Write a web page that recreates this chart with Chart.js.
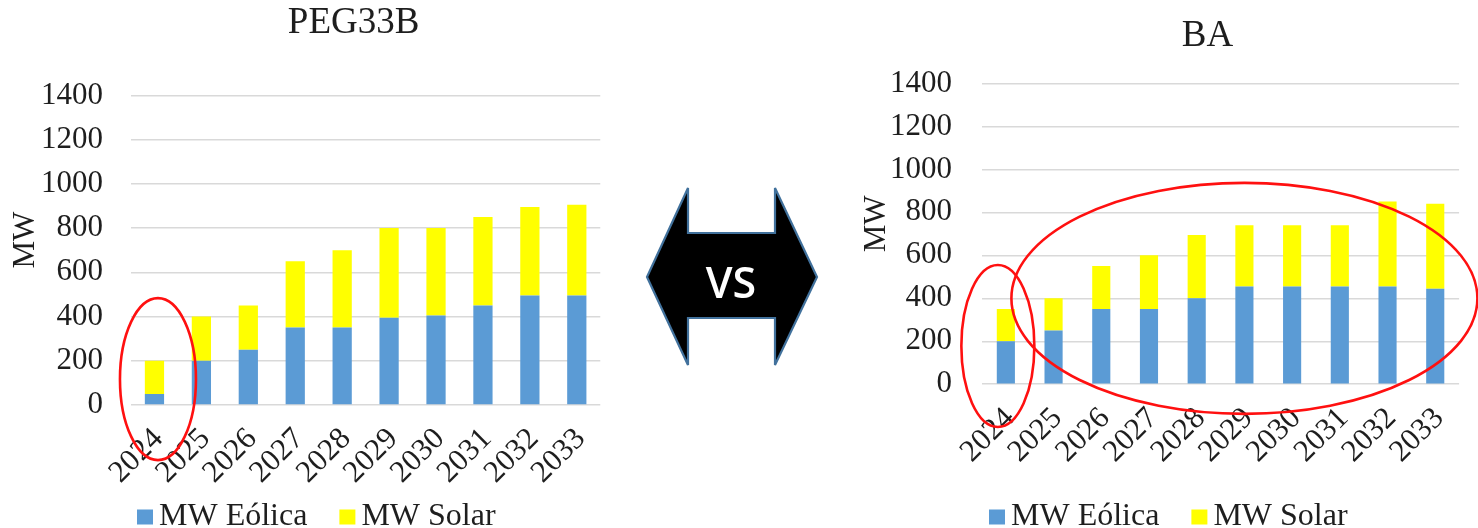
<!DOCTYPE html>
<html>
<head>
<meta charset="utf-8">
<title>PEG33B vs BA</title>
<script src="https://cdn.jsdelivr.net/npm/chart.js@4.4.1/dist/chart.umd.min.js"></script>
<style>
  html, body { margin: 0; padding: 0; background: #ffffff; }
  body { width: 1478px; height: 528px; position: relative; overflow: hidden; }
  #boxA { position: absolute; left: 0; top: 0; width: 620px; height: 528px; }
  #boxB { position: absolute; left: 850px; top: 0; width: 628px; height: 528px; }
  #versus { position: absolute; left: 0; top: 0; pointer-events: none; }
</style>
</head>
<body>
<div id="boxA"><canvas id="chartA" width="620" height="528"></canvas></div>
<div id="boxB"><canvas id="chartB" width="628" height="528"></canvas></div>

<!-- double arrow with the "VS" label between the two charts -->
<svg id="versus" width="1478" height="528" xmlns="http://www.w3.org/2000/svg">
  <polygon points="647,277 688,188 688,233 775,233 775,188 817,277 775,365 775,318 688,318 688,365"
           fill="#000000" stroke="#41719C" stroke-width="2.2" stroke-linejoin="miter"/>
  <text x="731" y="298" text-anchor="middle" fill="#ffffff"
        font-family="'Open Sans', 'Liberation Sans', sans-serif" font-weight="600" font-size="43">VS</text>
</svg>

<script>
// Years on the category axis
const years = ['2024', '2025', '2026', '2027', '2028', '2029', '2030', '2031', '2032', '2033'];

// PEG33B plan (MW)
const pegEolica = [50, 200, 250, 350, 350, 395, 405, 450, 495, 495];
const pegSolar  = [150, 200, 200, 300, 350, 405, 395, 400, 400, 410];

// BA plan (MW)
const baEolica = [200, 250, 350, 350, 400, 455, 455, 455, 455, 445];
const baSolar  = [150, 150, 200, 250, 295, 285, 285, 285, 395, 395];

// Value axis
const yMin = 0;
const yMax = 1400;
const yStep = 200;

// Series
const seriesNames  = ['MW Eólica', 'MW Solar'];
const seriesColors = ['#5B9BD5', '#FFFF00'];

const SERIF = "'Liberation Serif', 'Times New Roman', serif";
const INK = '#1e1e1e';

// Chart heading, centred a little left of the plot centre
const headingPlugin = {
  id: 'heading',
  afterDraw(chart, args, opts) {
    const { ctx, chartArea } = chart;
    ctx.save();
    ctx.font = `${opts.size}px ${SERIF}`;
    ctx.fillStyle = INK;
    ctx.textAlign = 'center';
    ctx.textBaseline = 'middle';
    ctx.fillText(opts.text, (chartArea.left + chartArea.right) / 2 + opts.dx, opts.y);
    ctx.restore();
  }
};

// Red highlight rings, placed with the chart scales
const ringPlugin = {
  id: 'rings',
  afterDraw(chart, args, opts) {
    const { ctx, scales: { x, y } } = chart;
    ctx.save();
    ctx.strokeStyle = opts.color;
    ctx.lineWidth = opts.width;
    for (const r of opts.items) {
      const cx = (x.getPixelForValue(r.from) + x.getPixelForValue(r.to)) / 2 + (r.dx || 0);
      const cy = y.getPixelForValue(r.value);
      ctx.beginPath();
      ctx.ellipse(cx, cy, r.rx, r.ry, r.rot || 0, 0, Math.PI * 2);
      ctx.stroke();
    }
    ctx.restore();
  }
};

// Rotated "MW" axis caption
const axisCaptionPlugin = {
  id: 'axisCaption',
  afterDraw(chart, args, opts) {
    const { ctx, chartArea } = chart;
    ctx.save();
    ctx.font = `${opts.size}px ${SERIF}`;
    ctx.fillStyle = INK;
    ctx.textAlign = 'center';
    ctx.textBaseline = 'middle';
    ctx.translate(chartArea.left - opts.offsetX, (chartArea.top + chartArea.bottom) / 2 + opts.offsetY);
    ctx.rotate(-Math.PI / 2);
    ctx.fillText(opts.text, 0, 0);
    ctx.restore();
  }
};

// Compact legend row under the axis
const legendRowPlugin = {
  id: 'legendRow',
  afterDraw(chart, args, opts) {
    const { ctx, chartArea } = chart;
    ctx.save();
    ctx.font = `${opts.size}px ${SERIF}`;
    ctx.textAlign = 'left';
    ctx.textBaseline = 'alphabetic';
    let x = chartArea.left + opts.offset;
    chart.data.datasets.forEach(ds => {
      ctx.fillStyle = ds.backgroundColor;
      ctx.fillRect(x, opts.boxTop, opts.box, opts.box - 1);
      x += opts.box + opts.gap;
      ctx.fillStyle = INK;
      ctx.fillText(ds.label, x, opts.baseline);
      x += ctx.measureText(ds.label).width + opts.itemGap;
    });
    ctx.restore();
  }
};

function buildChart(id, title, eolica, solar, lay) {
  const values = [eolica, solar];
  return new Chart(document.getElementById(id), {
    type: 'bar',
    data: {
      labels: years,
      datasets: seriesNames.map((name, i) => ({
        label: name,
        data: values[i],
        backgroundColor: seriesColors[i],
        borderWidth: 0,
        categoryPercentage: 1,
        barPercentage: lay.barPct
      }))
    },
    options: {
      responsive: false,
      animation: false,
      devicePixelRatio: 1,
      layout: { padding: { left: 0, right: lay.padRight, top: lay.padTop, bottom: 0 } },
      plugins: {
        legend: { display: false },
        title: { display: false },
        tooltip: { enabled: false },
        heading: { text: title, size: 37, dx: lay.titleDx, y: lay.titleY },
        rings: { color: '#FF1010', width: 2.6, items: lay.rings },
        axisCaption: { text: 'MW', size: 31, offsetX: 105, offsetY: -10 },
        legendRow: { size: 32, box: 16, gap: 6, itemGap: 32, offset: lay.legendOffset, boxTop: 509.5, baseline: 525 }
      },
      scales: {
        x: {
          stacked: true,
          grid: { display: false, drawTicks: false },
          border: { display: false },
          ticks: {
            autoSkip: false,
            minRotation: 45,
            maxRotation: 45,
            padding: lay.xPad,
            labelOffset: 4,
            color: INK,
            font: { family: SERIF, size: 31 }
          },
          afterFit(s) { s.height = lay.xHeight; }
        },
        y: {
          stacked: true,
          min: yMin,
          max: yMax,
          grid: { color: '#D9D9D9', lineWidth: 1.6, drawTicks: false },
          border: { display: false },
          ticks: {
            stepSize: yStep,
            padding: lay.yPad,
            color: INK,
            font: { family: SERIF, size: 31 },
            callback: v => String(v)
          },
          afterFit(s) { s.width = lay.yWidth; }
        }
      }
    },
    plugins: [headingPlugin, ringPlugin, axisCaptionPlugin, legendRowPlugin]
  });
}

buildChart('chartA', 'PEG33B', pegEolica, pegSolar, {
  padRight: 18, padTop: 95.4, yWidth: 131, yPad: 28,
  titleDx: -12, titleY: 23, xHeight: 123, xPad: 16,
  barPct: 0.41, legendOffset: 6,
  rings: [ { from: 0, to: 0, dx: 3.5, value: 117, rx: 38, ry: 81 } ]
});

buildChart('chartB', 'BA', baEolica, baSolar, {
  padRight: 9, padTop: 83.4, yWidth: 132, yPad: 30,
  titleDx: -13, titleY: 36, xHeight: 143.7, xPad: 16,
  barPct: 0.38, legendOffset: 7,
  rings: [
    { from: 0, to: 0, dx: -8, value: 178, rx: 36.5, ry: 81 },
    { from: 1, to: 9, dx: 0, value: 400, rx: 233, ry: 115.5 }
  ]
});
</script>
</body>
</html>
